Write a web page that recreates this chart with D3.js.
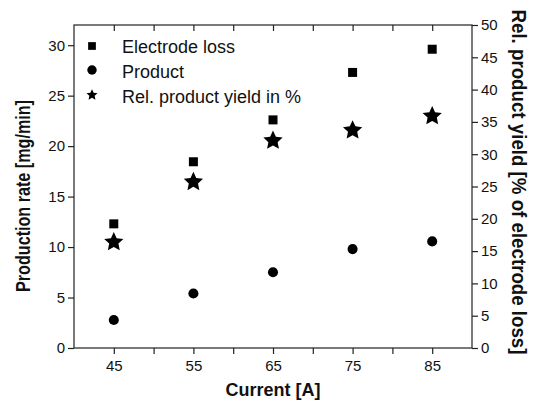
<!DOCTYPE html>
<html><head><meta charset="utf-8">
<script src="https://cdn.jsdelivr.net/npm/d3@7"></script>
<style>body{margin:0;background:#fff}svg{display:block}text{font-family:"Liberation Sans",Arial,sans-serif}</style>
</head><body><svg id="c" width="535" height="402"></svg>
<script>
const currents = [45, 55, 65, 75, 85];
const electrodeLoss = [12.3, 18.45, 22.6, 27.3, 29.6];
const product = [2.77, 5.4, 7.5, 9.8, 10.56];
const relYield = [16.4, 25.7, 32.1, 33.7, 35.9];
const xMajorTicks = [45, 55, 65, 75, 85];
const xAllTicks = [45, 50, 55, 60, 65, 70, 75, 80, 85];
const leftTicks = [0, 5, 10, 15, 20, 25, 30];
const rightTicks = [0, 5, 10, 15, 20, 25, 30, 35, 40, 45, 50];
const legendLabels = ["Electrode loss", "Product", "Rel. product yield in %"];

const svg = d3.select("#c");
const m = {l:74, r:472, t:25, b:348};
const x = d3.scaleLinear().domain([40, 90]).range([m.l, m.r]);
const yL = d3.scaleLinear().domain([0, 32]).range([m.b, m.t]);
const yR = d3.scaleLinear().domain([0, 50]).range([m.b, m.t]);
const col = "#000";

svg.append("rect").attr("x", m.l).attr("y", m.t).attr("width", m.r-m.l).attr("height", m.b-m.t)
  .attr("fill","none").attr("stroke","#222").attr("stroke-width",1.2);

const fmtX = d => xMajorTicks.includes(d) ? d : "";
const gBottom = svg.append("g").attr("transform",`translate(0,${m.b})`)
  .call(d3.axisBottom(x).tickValues(xAllTicks).tickFormat(fmtX).tickSizeOuter(0).tickSize(6).tickPadding(6));
const gTop = svg.append("g").attr("transform",`translate(0,${m.t})`)
  .call(d3.axisBottom(x).tickValues(xAllTicks).tickFormat("").tickSizeOuter(0).tickSize(6));
const gLeft = svg.append("g").attr("transform",`translate(${m.l},0)`)
  .call(d3.axisLeft(yL).tickValues(leftTicks).tickSizeOuter(0).tickSize(6).tickPadding(3));
const gRight = svg.append("g").attr("transform",`translate(${m.r},0)`)
  .call(d3.axisRight(yR).tickValues(rightTicks).tickSizeOuter(0).tickSize(6).tickPadding(3));
[gBottom, gTop, gLeft, gRight].forEach(g => {
  g.select(".domain").remove();
  g.selectAll("line").attr("stroke","#222").attr("stroke-width",1.2);
  g.selectAll("text").attr("font-size",15).attr("fill","#111").attr("font-family","Liberation Sans, Arial, sans-serif");
});

// fat five-pointed star (Origin style)
const fatStar = {
  draw(ctx, size) {
    const r = Math.sqrt(size * 0.89), ri = r * 0.48;
    for (let k = 0; k < 10; k++) {
      const rad = k % 2 ? ri : r;
      const a = -Math.PI / 2 + k * Math.PI / 5;
      const px = rad * Math.cos(a), py = rad * Math.sin(a);
      if (k === 0) ctx.moveTo(px, py); else ctx.lineTo(px, py);
    }
    ctx.closePath();
  }
};
const starSym = d3.symbol().type(fatStar);
const squareSym = d3.symbol().type(d3.symbolSquare);
const circleSym = d3.symbol().type(d3.symbolCircle);

svg.append("g").selectAll("path").data(currents).join("path")
  .attr("transform",(d,i)=>`translate(${x(d)},${yL(electrodeLoss[i])})`)
  .attr("d", squareSym.size(81)()).attr("fill",col);
svg.append("g").selectAll("path").data(currents).join("path")
  .attr("transform",(d,i)=>`translate(${x(d)},${yL(product[i])})`)
  .attr("d", circleSym.size(80)()).attr("fill",col);
svg.append("g").selectAll("path").data(currents).join("path")
  .attr("transform",(d,i)=>`translate(${x(d)},${yR(relYield[i])})`)
  .attr("d", starSym.size(115)()).attr("fill",col);

const lg = svg.append("g");
const legSyms = [squareSym.size(60)(), circleSym.size(70)(), starSym.size(38)()];
const legY = [46, 70, 95];
const legDy = [7, 8, 7.5];
legendLabels.forEach((t,i) => {
  lg.append("path").attr("d", legSyms[i]).attr("transform",`translate(92,${legY[i]})`).attr("fill",col);
  lg.append("text").attr("x",122).attr("y",legY[i]+legDy[i]).attr("font-size",18).attr("fill","#111").text(t);
});

svg.append("text").attr("x", (m.l+m.r)/2).attr("y", 396).attr("text-anchor","middle")
  .attr("font-size",18).attr("font-weight","bold").attr("fill","#111").text("Current [A]");
svg.append("text").attr("transform","translate(30,196) rotate(-90)").attr("text-anchor","middle")
  .attr("font-size",21).attr("font-weight","bold").attr("fill","#111")
  .attr("textLength",192).attr("lengthAdjust","spacingAndGlyphs").text("Production rate [mg/min]");
svg.append("text").attr("transform","translate(512,182) rotate(90)").attr("text-anchor","middle")
  .attr("font-size",21).attr("font-weight","bold").attr("fill","#111")
  .attr("textLength",345).attr("lengthAdjust","spacingAndGlyphs").text("Rel. product yield [% of electrode loss]");
</script></body></html>
